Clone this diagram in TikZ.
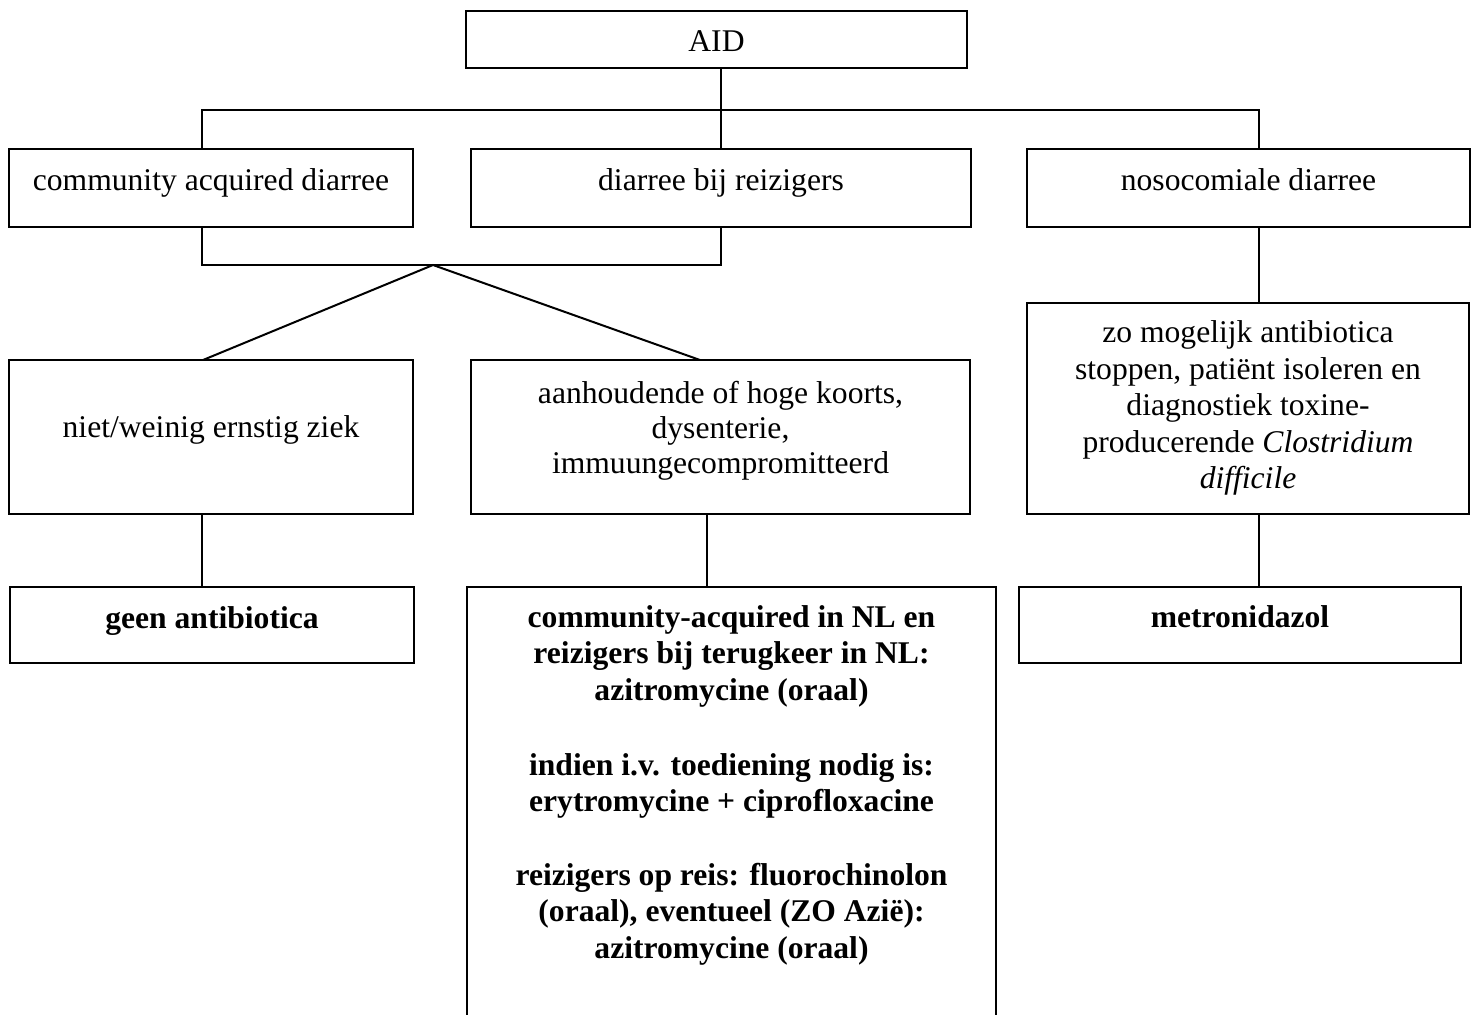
\documentclass[tikz,border=0pt]{standalone}
\usepackage{fontspec}
\setmainfont{Liberation Serif}
\begin{document}
\begin{tikzpicture}[x=0.5pt,y=-0.5pt,
  box/.style={draw, line width=1.1pt, rectangle, inner sep=0pt, outer sep=0pt},
  txt/.style={anchor=base, inner sep=0pt, font=\fontsize{15.8pt}{18.25pt}\selectfont},
  btxt/.style={anchor=base, inner sep=0pt, font=\fontsize{15.8pt}{18.25pt}\selectfont\bfseries},
  conn/.style={line width=1pt}]
\useasboundingbox (0,0) rectangle (1477,1014);
% boxes
\node[box, minimum width=250.5pt, minimum height=28.5pt] (aid) at (716.5,39.5) {};
\node[box, minimum width=202pt, minimum height=39pt] (cad) at (211,188) {};
\node[box, minimum width=250pt, minimum height=39pt] (dbr) at (721,188) {};
\node[box, minimum width=221.5pt, minimum height=39pt] (nos) at (1248.5,188) {};
\node[box, minimum width=202pt, minimum height=77pt] (niet) at (211,437) {};
\node[box, minimum width=249.5pt, minimum height=77pt] (aan) at (720.5,437) {};
\node[box, minimum width=221pt, minimum height=105.5pt] (zo) at (1248,408.5) {};
\node[box, minimum width=202pt, minimum height=38pt] (geen) at (212,625) {};
\node[box, minimum width=264.5pt, minimum height=226.5pt] (big) at (731.5,813.5) {};
\node[box, minimum width=221pt, minimum height=38pt] (met) at (1240,625) {};
% helper coordinates
\coordinate (cL) at (202,110);
\coordinate (cR) at (1259,110);
\coordinate (bL) at (202,265);
\coordinate (bR) at (721,265);
\coordinate (apex) at (433,265);
\coordinate (nietTop) at (203,360);
\coordinate (aanTop) at (700,360);
\coordinate (cM) at (707,0);
% connectors
\draw[conn] (aid.south -| bR) -- (dbr.north -| bR);
\draw[conn] (cL |- cad.north) -- (cL) -- (cR) -- (cR |- nos.north);
\draw[conn] (bL |- cad.south) -- (bL) -- (bR) -- (bR |- dbr.south);
\draw[conn] (nietTop) -- (apex) -- (aanTop);
\draw[conn] (cR |- nos.south) -- (cR |- zo.north);
\draw[conn] (cR |- zo.south) -- (cR |- met.north);
\draw[conn] (cL |- niet.south) -- (cL |- geen.north);
\draw[conn] (cM |- aan.south) -- (cM |- big.north);
% texts
\node[txt] (taid) at (716.5,51) {AID};
\node[txt] (tcad) at (211,190) {community acquired diarree};
\node[txt] (tdbr) at (721,190) {diarree bij reizigers};
\node[txt] (tnos) at (1248.5,190) {nosocomiale diarree};
\node[txt] (tniet) at (211,437) {niet/weinig ernstig ziek};
\node[txt] (taan1) at (720.5,403) {aanhoudende of hoge koorts,};
\node[txt] (taan2) at (720.5,438) {dysenterie,};
\node[txt] (taan3) at (720.5,473) {immuungecompromitteerd};
\node[txt] (tzo1) at (1248,342.5) {zo mogelijk antibiotica};
\node[txt] (tzo2) at (1248,379) {stoppen, patiënt isoleren en};
\node[txt] (tzo3) at (1248,415.5) {diagnostiek toxine-};
\node[txt] (tzo4) at (1248,452) {producerende \textit{Clostridium}};
\node[txt] (tzo5) at (1248,488.5) {\textit{difficile}};
\node[btxt] (tgeen) at (212,628) {geen antibiotica};
\node[btxt] (tmet) at (1240,627) {metronidazol};
\node[btxt] (tb1) at (731.5,627) {community-acquired in NL en};
\node[btxt] (tb2) at (731.5,663) {reizigers bij terugkeer in NL:};
\node[btxt] (tb3) at (731.5,700) {azitromycine (oraal)};
\node[btxt] (tb4) at (731.5,775) {indien i.v. toediening nodig is:};
\node[btxt] (tb5) at (731.5,811) {erytromycine + ciprofloxacine};
\node[btxt] (tb6) at (731.5,885) {reizigers op reis: fluorochinolon};
\node[btxt] (tb7) at (731.5,921) {(oraal), eventueel (ZO Azië):};
\node[btxt] (tb8) at (731.5,958) {azitromycine (oraal)};
\end{tikzpicture}
\end{document}
